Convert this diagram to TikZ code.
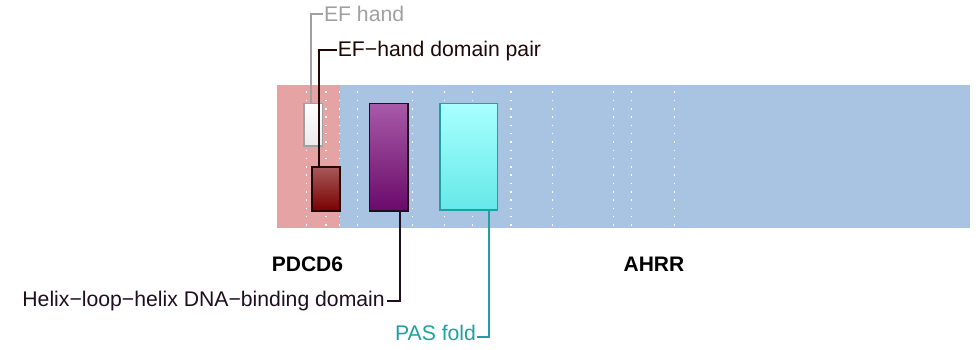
\documentclass[tikz,border=0pt]{standalone}
\usepackage{fontspec}
\setmainfont{Liberation Sans}
\definecolor{bandred}{HTML}{E5A3A3}
\definecolor{bandblue}{HTML}{A8C4E2}
\definecolor{efgray}{HTML}{A0A0A0}
\definecolor{efdark}{HTML}{1E0808}
\definecolor{hlhdark}{HTML}{1E0F1E}
\definecolor{pasteal}{HTML}{20A0A0}
\definecolor{redtop}{HTML}{A65A5A}
\definecolor{redbot}{HTML}{7A0000}
\definecolor{purtop}{HTML}{A85AA8}
\definecolor{purbot}{HTML}{6A0A6A}
\definecolor{cyantop}{HTML}{A8FFFF}
\definecolor{cyanbot}{HTML}{66E8E8}
\tikzset{
  dombox/.style={anchor=north west, inner sep=0pt, line width=1.6pt},
  conn/.style={line width=1.8pt},
  lab/.style={inner sep=0pt, font=\fontsize{21.2}{23}\selectfont},
  blab/.style={inner sep=0pt, font=\fontsize{21}{23}\selectfont\bfseries, anchor=base},
  gridline/.style={white, line width=1.5pt, dash pattern=on 1.5pt off 6.8pt}
}
\begin{document}
\begin{tikzpicture}[x=1pt,y=-1pt]
\useasboundingbox (0,0) rectangle (978,350);
% background bands
\fill[bandred] (277,85) rectangle (340,227.5);
\fill[bandblue] (340,85) rectangle (970,227.5);
\foreach \x in {306.7,326,339.3,357.7,412.7,444.7,472.3,511,552.7,613.3,631.7,674.3}
  \draw[gridline] (\x,91.5) -- (\x,226);
% domain boxes
\node[dombox, draw=efgray, top color=white, bottom color=black!8,
      minimum width=18.4pt, minimum height=42.6pt] (ef) at (303.3,102.7) {};
\node[dombox, draw=efdark, top color=redtop, bottom color=redbot,
      minimum width=28pt, minimum height=44pt] (efp) at (311.3,166) {};
\node[dombox, draw=hlhdark, top color=purtop, bottom color=purbot,
      minimum width=38.3pt, minimum height=107.3pt] (hlh) at (368.7,102.7) {};
\node[dombox, draw=pasteal, top color=cyantop, bottom color=cyanbot,
      minimum width=57.7pt, minimum height=106.6pt] (pas) at (439,102.7) {};
% labels
\node[lab, text=efgray, anchor=base west] (eflab) at (323.8,21.7) {EF hand};
\node[lab, text=efdark, anchor=base west] (efplab) at (337.6,57) {EF−hand domain pair};
\node[lab, text=hlhdark, anchor=base east] (hlhlab) at (385,306.7) {Helix−loop−helix DNA−binding domain};
\node[lab, text=pasteal, anchor=base east] (paslab) at (476.2,340) {PAS fold};
\node[blab] (pdcd) at (307.5,271.7) {PDCD6};
\node[blab] (ahrr) at (654,271) {AHRR};
% connectors
\coordinate (efk) at (311.3,14);
\coordinate (efpk) at (318.8,50);
\coordinate (hlhk) at (400,301);
\coordinate (pask) at (489,336.7);
\draw[conn, efgray] (ef.north -| efk) -- (efk) -- ([xshift=-1pt]eflab.west |- efk);
\draw[conn, efdark] (efp.north -| efpk) -- (efpk) -- ([xshift=-1pt]efplab.west |- efpk);
\draw[conn, hlhdark] (hlh.south -| hlhk) -- (hlhk) -- ([xshift=1.5pt]hlhlab.east |- hlhk);
\draw[conn, pasteal] (pas.south -| pask) -- (pask) -- ([xshift=1pt]paslab.east |- pask);
\end{tikzpicture}
\end{document}
